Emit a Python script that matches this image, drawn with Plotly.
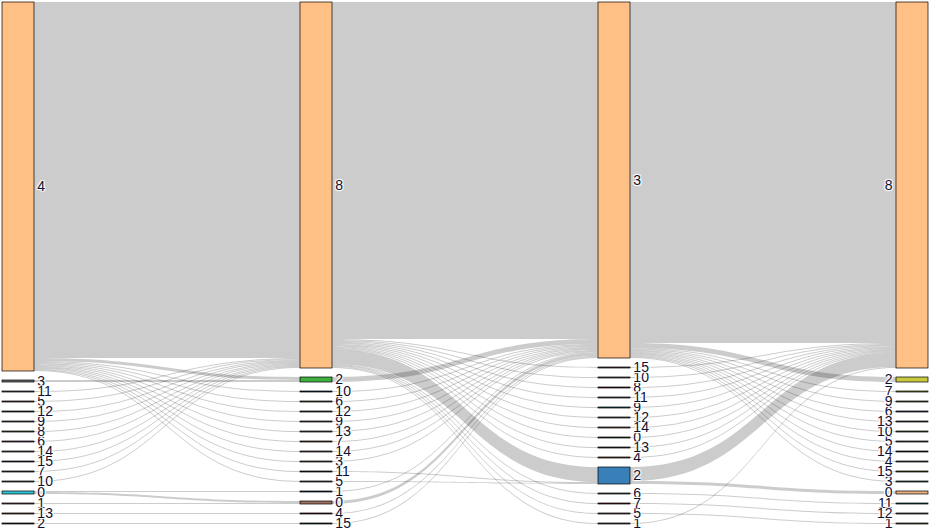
import plotly.graph_objects as go

# node order in each of the 4 columns, top to bottom (labels 0..15)
order = [
    [4, 3, 11, 5, 12, 9, 8, 6, 14, 15, 7, 10, 0, 1, 13, 2],
    [8, 2, 10, 6, 12, 9, 13, 7, 14, 3, 11, 5, 1, 0, 4, 15],
    [3, 15, 10, 8, 11, 9, 12, 14, 0, 13, 4, 2, 6, 7, 5, 1],
    [8, 2, 7, 9, 6, 13, 10, 5, 14, 4, 15, 3, 0, 11, 12, 1],
]

# node fill colours per column, indexed by label
fill = [
    ["#2ec4d6", "#805858", "#203848", "#6b6b6b", "#ffc086", "#703c6c", "#6c3c6c", "#604848",
     "#4c7044", "#5c6478", "#5c6478", "#5a6478", "#3c3c3c", "#804010", "#6c6c6c", "#3c3060"],
    ["#a07060", "#1a3a5a", "#40b040", "#7c6048", "#701818", "#5c6478", "#4c7044", "#804010",
     "#ffc086", "#7c5c70", "#1a3a5a", "#3c2828", "#5c4848", "#686868", "#7c5c70", "#1a4020"],
    ["#1a501a", "#5c4868", "#3a80b8", "#ffc086", "#804010", "#7c5050", "#4a6a6a", "#701818",
     "#701818", "#1a6a70", "#6c6078", "#6c6078", "#5a6a70", "#404040", "#7c6040", "#704848"],
    ["#e8b080", "#606040", "#c8c840", "#4a6a6a", "#606060", "#5c5070", "#4c3c6c", "#b0b030",
     "#ffc086", "#70704c", "#4c7044", "#106060", "#705868", "#604c48", "#3c2820", "#606010"],
]
# border colours that differ from the fill
border = [
    {0: "#1a6a80", 4: "#4c5a2a"},
    {0: "#4a2a20", 2: "#206020", 8: "#7c5030"},
    {2: "#1a3a5a", 3: "#7c3c7c"},
    {0: "#904020", 2: "#707010", 8: "#803000"},
]

# flows between consecutive columns: source label, target label, value
src01 = [4, 4, 3, 4, 4, 4, 4, 4, 4, 4, 4, 4, 4, 11, 5, 12, 9, 8, 6, 14, 15, 7, 10, 0, 0, 1, 13, 2]
tgt01 = [8, 2, 2, 10, 6, 12, 9, 13, 7, 14, 3, 11, 5, 8, 8, 8, 8, 8, 8, 8, 8, 8, 8, 0, 1, 0, 4, 15]
val01 = [356, 3, 2, 1, 1, 1, 1, 1, 1, 1, 1, 1, 1, 1, 1, 1, 1, 1, 1, 1, 1, 1, 1, 2, 1, 1, 1, 1]

src12 = [8, 8, 8, 8, 8, 8, 8, 8, 8, 8, 8, 8, 8, 8, 8, 8, 5, 11,
         2, 10, 6, 12, 9, 13, 7, 14, 3, 0, 1, 4, 15]
tgt12 = [3, 2, 15, 10, 8, 11, 9, 12, 14, 0, 13, 4, 6, 7, 5, 1, 2, 2,
         3, 3, 3, 3, 3, 3, 3, 3, 3, 3, 3, 3, 3]
val12 = [337, 15, 1, 1, 1, 1, 1, 1, 1, 1, 1, 1, 1, 1, 1, 1, 1, 1,
         5, 1, 1, 1, 1, 1, 1, 1, 1, 3, 1, 1, 1]

src23 = [3, 3, 3, 3, 3, 3, 3, 3, 3, 3, 3, 3,
         15, 10, 8, 11, 9, 12, 14, 0, 13, 4, 2, 2, 6, 7, 5, 1]
tgt23 = [8, 2, 7, 9, 6, 13, 10, 5, 14, 4, 15, 3,
         8, 8, 8, 8, 8, 8, 8, 8, 8, 8, 8, 0, 11, 12, 1, 8]
val23 = [341, 5, 1, 1, 1, 1, 1, 1, 1, 1, 1, 1,
         1, 1, 1, 1, 1, 1, 1, 1, 1, 1, 14, 3, 1, 1, 1, 1]

stage_links = [(src01, tgt01, val01), (src12, tgt12, val12), (src23, tgt23, val23)]

# layout settings
width, height = 933, 531
ml, mr, mt, mb = 2, 5, 2, 7
pad = 9.0
thick = 32
W = width - ml - mr
H = height - mt - mb

source, target, value = [], [], []
inflow = [0.0] * 64
outflow = [0.0] * 64
for s, (sl, tl, vl) in enumerate(stage_links):
    for a, b, v in zip(sl, tl, vl):
        i, j = s * 16 + a, (s + 1) * 16 + b
        source.append(i)
        target.append(j)
        value.append(v)
        outflow[i] += v
        inflow[j] += v
node_val = [max(a, b) for a, b in zip(inflow, outflow)]

total = max(sum(node_val[s * 16:(s + 1) * 16]) for s in range(4))
ky = (H - 15 * pad) / total

xs = [0.0] * 64
ys = [0.0] * 64
for s, col in enumerate(order):
    cx = (thick / 2 + s * (W - thick) / 3) / W
    cum = 0.0
    for k in col:
        n = s * 16 + k
        h = node_val[n] * ky
        xs[n] = cx
        ys[n] = (cum + h / 2) / H
        cum += h + pad

labels = [str(k) for s in range(4) for k in range(16)]
colors = [fill[s][k] for s in range(4) for k in range(16)]
lines = [border[s].get(k, fill[s][k]) for s in range(4) for k in range(16)]

fig = go.Figure(go.Sankey(
    arrangement="fixed",
    node=dict(
        label=labels,
        color=colors,
        line=dict(color=lines, width=0.7),
        pad=pad,
        thickness=thick,
        x=xs,
        y=ys,
    ),
    link=dict(
        source=source,
        target=target,
        value=value,
        color="rgba(0,0,0,0.2)",
        line=dict(color="rgba(0,0,0,0)", width=0.01),
    ),
    textfont=dict(family="Liberation Sans, Arial", size=14, color="#101030"),
))

fig.update_layout(
    width=width,
    height=height,
    margin=dict(l=ml, r=mr, t=mt, b=mb),
    paper_bgcolor="white",
    plot_bgcolor="white",
)

# page body has a default 8px margin; remove it so the chart fills the window
fig.write_html(
    "out.html",
    config={"displayModeBar": False},
    post_script="document.body.style.margin='0px';",
)
